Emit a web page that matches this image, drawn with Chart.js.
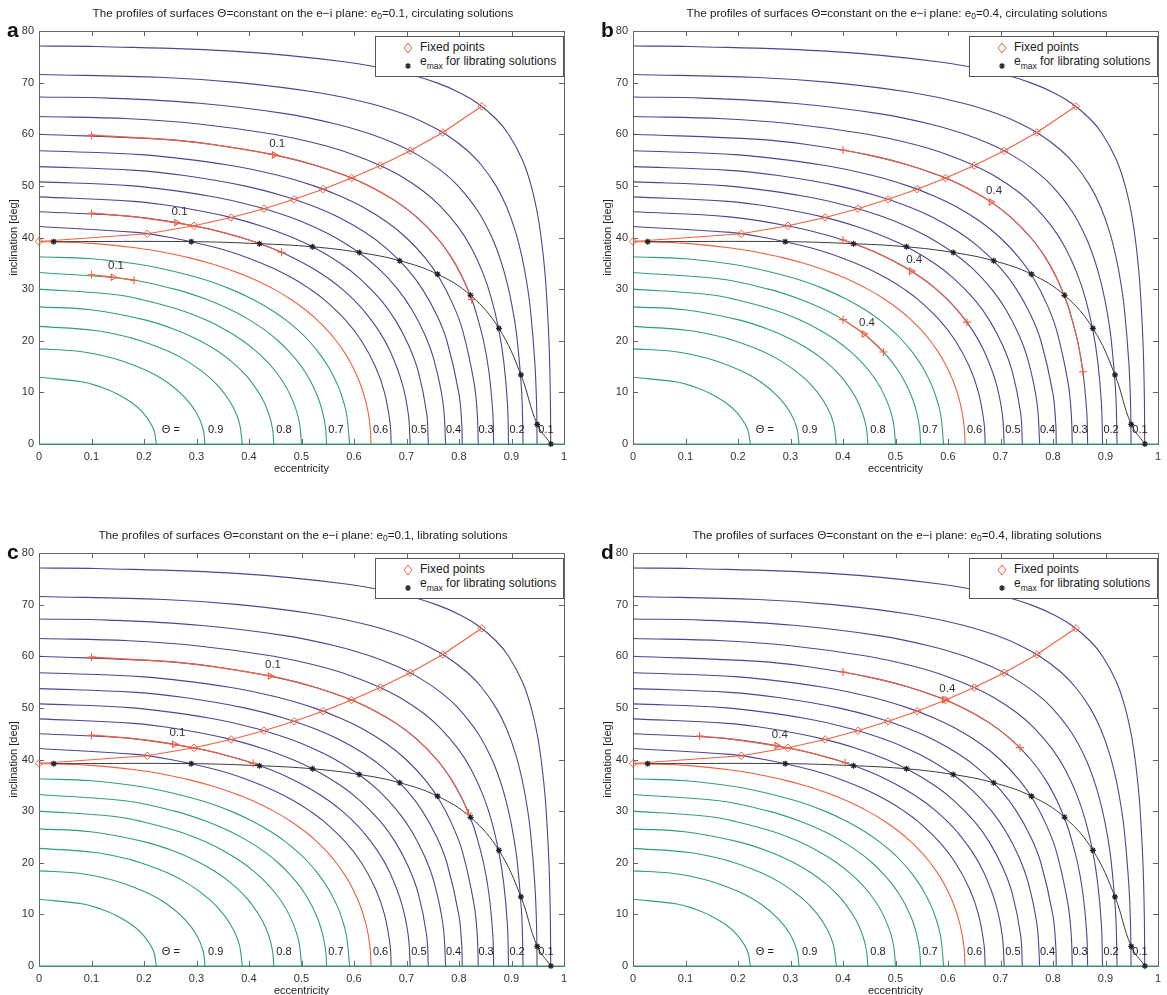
<!DOCTYPE html>
<html>
<head>
<meta charset="utf-8">
<script src="https://cdn.jsdelivr.net/npm/chart.js@4.4.1/dist/chart.umd.min.js"></script>
<style>
  body { margin: 0; background: #fff; width: 1167px; height: 995px; overflow: hidden; position: relative;
         font-family: "Liberation Sans", Arial, sans-serif; color: #222; }
  .panel { position: absolute; }
  .title { position: absolute; font-size: 11.7px; white-space: nowrap; transform: translate(-50%, -50%); }
  .title sub { font-size: 8.5px; vertical-align: -2px; }
  .letter { position: absolute; font-size: 21px; font-weight: bold; line-height: 21px; color: #111; }
  .legend { position: absolute; width: 187px; height: 39px; border: 1px solid #555; background: #fff; font-size: 12px; }
  .legend span { position: absolute; left: 44px; white-space: nowrap; }
  .legend sub { font-size: 8.5px; vertical-align: -4px; }
  .legend svg { position: absolute; left: 25px; }
</style>
</head>
<body>
<script>
// contour lines Theta = (1-e^2) cos^2 i, points [e, i]
const theta05 = [[0,77.08],[0.1089,77],[0.3818,76],[0.5848,74],[0.6902,72],[0.7567,70],[0.8023,68],[0.8353,66],[0.8703,63],[0.8944,60],[0.9209,55],[0.9375,50],[0.9487,45],[0.9564,40],[0.9620,35],[0.9661,30],[0.9713,20],[0.9739,10],[0.9747,0]];
const theta10 = [[0,71.57],[0.2379,71],[0.3810,70],[0.5361,68],[0.6289,66],[0.6925,64],[0.7391,62],[0.7746,60],[0.8142,57],[0.8429,54],[0.8706,50],[0.8904,46],[0.9080,41],[0.9204,36],[0.9295,31],[0.9361,26],[0.9443,16],[0.9477,8],[0.9487,0]];
const theta15 = [[0,67.21],[0.1323,67],[0.3054,66],[0.4684,64],[0.5652,62],[0.6325,60],[0.6825,58],[0.7213,56],[0.7654,53],[0.7981,50],[0.8367,45],[0.8628,40],[0.8812,35],[0.8944,30],[0.9041,25],[0.9111,20],[0.9194,10],[0.9220,0]];
const theta20 = [[0,63.43],[0.1722,63],[0.3042,62],[0.4472,60],[0.5365,58],[0.6003,56],[0.6489,54],[0.6873,52],[0.7317,49],[0.7652,46],[0.7987,42],[0.8234,38],[0.8460,33],[0.8622,28],[0.8760,22],[0.8852,16],[0.8922,8],[0.8944,0]];
const theta25 = [[0,60],[0.2399,59],[0.3312,58],[0.4478,56],[0.5257,54],[0.5835,52],[0.6284,50],[0.6801,47],[0.7189,44],[0.7576,40],[0.7862,36],[0.8077,32],[0.8242,28],[0.8310,26],[0.8467,20],[0.8570,14],[0.8644,6],[0.8660,0]];
const theta30 = [[0,56.79],[0.2015,56],[0.3629,54],[0.4567,52],[0.5234,50],[0.5744,48],[0.6151,46],[0.6627,43],[0.6991,40],[0.7360,36],[0.7635,32],[0.7887,27],[0.8069,22],[0.8285,12],[0.8347,6],[0.8367,0]];
const theta35 = [[0,53.73],[0.1834,53],[0.2768,52],[0.3910,50],[0.4672,48],[0.5241,46],[0.5689,44],[0.6209,41],[0.6606,38],[0.7005,34],[0.7303,30],[0.7576,25],[0.7769,20],[0.7995,10],[0.8052,4],[0.8062,0]];
const theta40 = [[0,50.77],[0.1786,50],[0.3265,48],[0.4136,46],[0.4764,44],[0.5251,42],[0.5642,40],[0.6106,37],[0.6465,34],[0.6831,30],[0.7105,26],[0.7356,21],[0.7531,16],[0.7695,8],[0.7746,0]];
const theta45 = [[0,47.87],[0.1803,47],[0.2597,46],[0.3610,44],[0.4303,42],[0.4829,40],[0.5247,38],[0.5739,35],[0.6118,32],[0.6502,28],[0.6788,24],[0.7047,19],[0.7225,14],[0.7383,6],[0.7416,0]];
const theta50 = [[0,45],[0.1836,44],[0.3076,42],[0.3846,40],[0.4414,38],[0.4859,36],[0.5220,34],[0.5521,32],[0.5774,30],[0.5989,28],[0.6173,26],[0.6468,22],[0.6687,18],[0.6910,12],[0.7032,6],[0.7071,0]];
const theta55 = [[0,42.13],[0.1854,41],[0.2505,40],[0.3381,38],[0.3996,36],[0.4470,34],[0.4850,32],[0.5164,30],[0.5427,28],[0.5839,24],[0.6141,20],[0.6407,15],[0.6580,10],[0.6688,4],[0.6708,0]];
const theta60 = [[0,39.23],[0.1,38.87],[0.1837,38],[0.2435,37],[0.2886,36],[0.3253,35],[0.3564,34],[0.3834,33],[0.4071,32],[0.4472,30],[0.4800,28],[0.5072,26],[0.5302,24],[0.5496,22],[0.5661,20],[0.5802,18],[0.5922,16],[0.6106,12],[0.6230,8],[0.6301,4],[0.6325,0]];
const theta65 = [[0,36.27],[0.1,35.87],[0.1769,35],[0.2330,34],[0.3102,32],[0.3651,30],[0.4077,28],[0.4420,26],[0.4703,24],[0.4939,22],[0.5137,20],[0.5305,18],[0.5446,16],[0.5564,14],[0.5662,12],[0.5743,10],[0.5855,6],[0.5916,0]];
const theta70 = [[0,33.21],[0.1633,32],[0.2582,30],[0.3195,28],[0.3653,26],[0.4015,24],[0.4310,22],[0.4553,20],[0.4755,18],[0.4924,16],[0.5065,14],[0.5180,12],[0.5315,9],[0.5406,6],[0.5460,3],[0.5477,0]];
const theta75 = [[0,30],[0.1399,29],[0.1949,28],[0.2676,26],[0.3183,24],[0.3572,22],[0.3881,20],[0.4133,18],[0.4340,16],[0.4510,14],[0.4649,12],[0.4761,10],[0.4886,7],[0.4963,4],[0.5,0]];
const theta80 = [[0,26.57],[0.0984,26],[0.2035,24],[0.2635,22],[0.3066,20],[0.3399,18],[0.3664,16],[0.3876,14],[0.4048,12],[0.4242,9],[0.4372,6],[0.4447,3],[0.4472,0]];
const theta85 = [[0,22.79],[0.1061,22],[0.1573,21],[0.1934,20],[0.2455,18],[0.2830,16],[0.3236,13],[0.3515,10],[0.3704,7],[0.3819,4],[0.3873,0]];
const theta90 = [[0,18.43],[0.0706,18],[0.1260,17],[0.1612,16],[0.2099,14],[0.2436,12],[0.2782,9],[0.3001,6],[0.3123,3],[0.3162,0]];
const theta95 = [[0,12.92],[0.0841,12],[0.1187,11],[0.1430,10],[0.1768,8],[0.1987,6],[0.2177,3],[0.2236,0]];
const baseline = [[0,0],[1,0]];

const contourLevels = [0.05,0.10,0.15,0.20,0.25,0.30,0.35,0.40,0.45,0.50,0.55,0.60,0.65,0.70,0.75,0.80,0.85,0.90,0.95];
const contourCurves = [theta05,theta10,theta15,theta20,theta25,theta30,theta35,theta40,theta45,theta50,theta55,theta60,theta65,theta70,theta75,theta80,theta85,theta90,theta95];

// fixed points and e_max of librating solutions
const fixedE = [0,0.2063,0.2952,0.3660,0.4284,0.4860,0.5412,0.5954,0.6501,0.7071,0.7692,0.8434];
const fixedI = [39.23,40.72,42.26,43.88,45.58,47.39,49.36,51.52,53.94,56.79,60.34,65.41];
const emaxE = [0.028,0.290,0.420,0.521,0.610,0.687,0.759,0.822,0.876,0.918,0.949,0.975];
const emaxI = [39.2,39.2,38.8,38.2,37.1,35.5,32.9,28.8,22.4,13.4,3.8,0];

// trajectories (red), their direction triangles
const trajA1 = [[0.1,59.83],[0.2399,59],[0.3312,58],[0.4478,56],[0.5257,54],[0.5835,52],[0.6284,50],[0.6801,47],[0.7189,44],[0.7576,40],[0.7862,36],[0.8077,32],[0.8242,28]];
const trajA2 = [[0.1,44.71],[0.1836,44],[0.3076,42],[0.3846,40],[0.4414,38],[0.462,37.13]];
const trajA3 = [[0.1,32.78],[0.141,32.30],[0.181,31.72]];
const arrowsA = [[0.448,56.0],[0.262,42.88],[0.141,32.30]];

const trajB1 = [[0.4,56.94],[0.4478,56],[0.5257,54],[0.5835,52],[0.6284,50],[0.6801,47],[0.7189,44],[0.7576,40],[0.7862,36],[0.8077,32],[0.8242,28],[0.8310,26],[0.8467,20],[0.8570,14]];
const trajB2 = [[0.4,39.52],[0.4414,38],[0.4859,36],[0.5220,34],[0.5521,32],[0.5774,30],[0.5989,28],[0.6173,26],[0.636,23.6]];
const trajB3 = [[0.4,24.09],[0.44,21.30],[0.477,17.83]];
const arrowsB = [[0.682,46.87],[0.53,33.5],[0.44,21.30]];

const trajC1 = [[0.1,59.83],[0.2399,59],[0.3312,58],[0.4478,56],[0.5257,54],[0.5835,52],[0.6284,50],[0.6801,47],[0.7189,44],[0.7576,40],[0.7862,36],[0.8077,32],[0.818,29.63]];
const trajC2 = [[0.1,44.71],[0.1836,44],[0.3076,42],[0.3846,40],[0.408,39.25]];
const arrowsC = [[0.44,56.17],[0.258,42.96]];

const trajD1 = [[0.4,56.94],[0.4478,56],[0.5257,54],[0.5835,52],[0.6284,50],[0.6801,47],[0.7189,44],[0.737,42.3]];
const trajD2 = [[0.127,44.52],[0.1836,44],[0.3076,42],[0.3846,40],[0.404,39.37]];
const arrowsD = [[0.593,51.61],[0.274,42.68]];

// text labels
const xTickLabels = ['0','0.1','0.2','0.3','0.4','0.5','0.6','0.7','0.8','0.9','1'];
const thetaLabelText = ['\u0398 =','0.9','0.8','0.7','0.6','0.5','0.4','0.3','0.2','0.1'];
const thetaLabelE = [0.234,0.322,0.452,0.551,0.636,0.709,0.775,0.837,0.896,0.951];
const thetaLabelI = 2.8;

const GREEN = '#2fa073', BLUE = '#4a4792', RED = '#f0603f', DARK = '#3a3a3a';

const panels = [
  { key: 'a', left: 0,   top: 0,   e0: '0.1', kind: 'circulating', trajs: [trajA1, trajA2, trajA3], arrows: arrowsA },
  { key: 'b', left: 594, top: 0,   e0: '0.4', kind: 'circulating', trajs: [trajB1, trajB2, trajB3], arrows: arrowsB },
  { key: 'c', left: 0,   top: 522, e0: '0.1', kind: 'librating',   trajs: [trajC1, trajC2], arrows: arrowsC },
  { key: 'd', left: 594, top: 522, e0: '0.4', kind: 'librating',   trajs: [trajD1, trajD2], arrows: arrowsD }
];

function pairs(arr) { return arr.map(p => ({ x: p[0], y: p[1] })); }

function lineSet(arr, color, extra) {
  return Object.assign({
    data: pairs(arr), showLine: true, borderColor: color, backgroundColor: color,
    borderWidth: 1.1, pointRadius: 0, tension: 0.4, clip: false
  }, extra || {});
}

// box, inward ticks, contour labels and trajectory labels
const framePlugin = {
  id: 'frame',
  beforeDatasetsDraw(chart) {
    const { ctx, chartArea: a, scales: { x, y } } = chart;
    ctx.save();
    ctx.strokeStyle = '#666';
    ctx.lineWidth = 1;
    ctx.strokeRect(a.left + 0.5, a.top + 0.5, a.right - a.left, a.bottom - a.top);
    ctx.beginPath();
    for (let k = 1; k < 10; k++) {
      const px = Math.round(x.getPixelForValue(k / 10)) + 0.5;
      ctx.moveTo(px, a.bottom); ctx.lineTo(px, a.bottom - 5);
      ctx.moveTo(px, a.top); ctx.lineTo(px, a.top + 5);
    }
    for (let v = 10; v < 80; v += 10) {
      const py = Math.round(y.getPixelForValue(v)) + 0.5;
      ctx.moveTo(a.left, py); ctx.lineTo(a.left + 5, py);
      ctx.moveTo(a.right, py); ctx.lineTo(a.right - 5, py);
    }
    ctx.stroke();
    ctx.restore();
  },
  afterDatasetsDraw(chart, args, opts) {
    const { ctx, scales: { x, y } } = chart;
    ctx.save();
    ctx.font = '11px "Liberation Sans", Arial, sans-serif';
    ctx.fillStyle = '#222';
    ctx.textBaseline = 'middle';
    ctx.textAlign = 'left';
    thetaLabelText.forEach((t, k) => {
      ctx.fillText(t, x.getPixelForValue(thetaLabelE[k]), y.getPixelForValue(thetaLabelI));
    });
    ctx.textAlign = 'center';
    ctx.font = '11.5px "Liberation Sans", Arial, sans-serif';
    ctx.fillStyle = '#333';
    opts.arrows.forEach(m => {
      ctx.fillText(opts.label, x.getPixelForValue(m[0]) + 3, y.getPixelForValue(m[1]) - 11);
    });
    ctx.restore();
  }
};

panels.forEach(p => {
  const wrap = document.createElement('div');
  wrap.className = 'panel';
  wrap.style.left = p.left + 'px';
  wrap.style.top = p.top + 'px';
  const canvas = document.createElement('canvas');
  canvas.width = 583;
  canvas.height = 480;
  wrap.appendChild(canvas);
  document.body.appendChild(wrap);

  // higher "order" is drawn first (underneath)
  const datasets = [];
  contourCurves.forEach((c, k) => {
    const lev = contourLevels[k];
    const col = lev > 0.6 ? GREEN : (lev < 0.6 ? BLUE : RED);
    datasets.push(lineSet(c, col, { order: lev === 0.6 ? 9 : 10 }));
  });
  datasets.push(lineSet(baseline, GREEN, { tension: 0, order: 8 }));
  p.trajs.forEach(t => datasets.push(lineSet(t, RED, { borderWidth: 1.15, order: 5 })));
  datasets.push(lineSet(fixedE.map((e, k) => [e, fixedI[k]]), RED, {
    tension: 0, pointRadius: 3.8, pointStyle: 'rectRot', order: 3,
    pointBorderColor: RED, pointBackgroundColor: 'rgba(0,0,0,0)', pointBorderWidth: 1
  }));
  datasets.push(lineSet(emaxE.map((e, k) => [e, emaxI[k]]), DARK, {
    borderWidth: 1, pointRadius: 3, pointStyle: 'star', pointBorderColor: '#222', pointBorderWidth: 1.2, order: 2
  }));
  const ends = [];
  p.trajs.forEach(t => { ends.push(t[0]); ends.push(t[t.length - 1]); });
  datasets.push({ data: pairs(ends), showLine: false, pointStyle: 'cross', pointRadius: 4, order: 1,
    pointBorderColor: RED, pointBorderWidth: 1.1, clip: false });
  datasets.push({ data: pairs(p.arrows), showLine: false, pointStyle: 'triangle', rotation: 90, order: 0,
    pointRadius: 3.6, pointBorderColor: RED, pointBackgroundColor: 'rgba(255,255,255,0)',
    pointBorderWidth: 1.1, clip: false });

  new Chart(canvas, {
    type: 'scatter',
    data: { datasets: datasets },
    options: {
      responsive: false,
      animation: false,
      events: [],
      layout: { padding: { left: 0, right: 19, top: 31, bottom: 0 } },
      plugins: {
        legend: { display: false },
        tooltip: { enabled: false },
        frame: { arrows: p.arrows, label: p.e0 }
      },
      scales: {
        x: {
          type: 'linear', min: 0, max: 1,
          afterFit: s => { s.height = 36; },
          grid: { display: false, drawTicks: false },
          border: { display: false },
          ticks: { stepSize: 0.1, padding: 6, color: '#333', font: { size: 11, family: '"Liberation Sans", Arial' },
                   maxRotation: 0, autoSkip: false, callback: (v, idx) => xTickLabels[idx] },
          title: { display: true, text: 'eccentricity', color: '#222', font: { size: 11, family: '"Liberation Sans", Arial' },
                   padding: { top: 0, bottom: 4.4 } }
        },
        y: {
          type: 'linear', min: 0, max: 80,
          afterFit: s => { s.width = 39; },
          grid: { display: false, drawTicks: false },
          border: { display: false },
          ticks: { stepSize: 10, padding: 5, color: '#333', font: { size: 11, family: '"Liberation Sans", Arial' } },
          title: { display: true, text: 'inclination [deg]', color: '#222', font: { size: 11, family: '"Liberation Sans", Arial' },
                   padding: { top: 7, bottom: 0 } }
        }
      }
    },
    plugins: [framePlugin]
  });

  const title = document.createElement('div');
  title.className = 'title';
  title.style.left = (p.left + 303) + 'px';
  title.style.top = (p.top + 13) + 'px';
  title.innerHTML = 'The profiles of surfaces \u0398=constant on the e\u2212i plane: e<sub>0</sub>=' + p.e0 + ', ' + p.kind + ' solutions';
  document.body.appendChild(title);

  const letter = document.createElement('div');
  letter.className = 'letter';
  letter.style.left = (p.left + 7) + 'px';
  letter.style.top = (p.top + 19) + 'px';
  letter.textContent = p.key;
  document.body.appendChild(letter);

  const legend = document.createElement('div');
  legend.className = 'legend';
  legend.style.left = (p.left + 375) + 'px';
  legend.style.top = (p.top + 36) + 'px';
  legend.innerHTML =
    '<svg width="14" height="14" style="top:4px"><polygon points="7,2 11,7 7,12 3,7" fill="none" stroke="' + RED + '" stroke-width="1"/></svg>' +
    '<span style="top:3px">Fixed points</span>' +
    '<svg width="14" height="14" style="top:22px"><path d="M7,4V10M4,7H10M4.9,4.9L9.1,9.1M9.1,4.9L4.9,9.1" stroke="#222" stroke-width="1.2"/></svg>' +
    '<span style="top:17px">e<sub>max</sub> for librating solutions</span>';
  document.body.appendChild(legend);
});
</script>
</body>
</html>
